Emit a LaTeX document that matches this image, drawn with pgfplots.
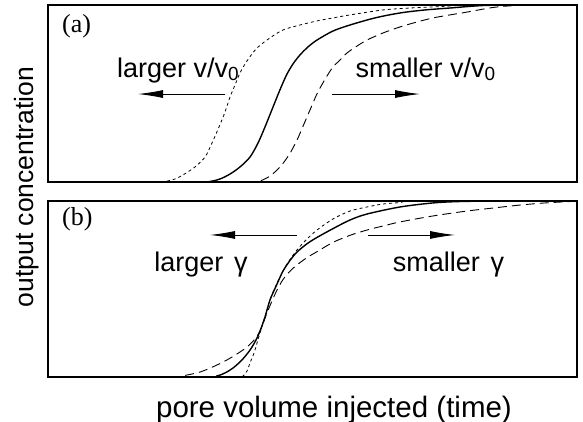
\documentclass[border=0pt]{standalone}
\usepackage{pgfplots}
\pgfplotsset{compat=1.18}
\usepackage{fontspec}
\setmainfont{Liberation Sans}
\newfontfamily\serif{Liberation Serif}
\usetikzlibrary{arrows.meta}
\newcommand{\sub}[1]{\raisebox{-0.12em}{\fontsize{19bp}{20bp}\selectfont #1}}
\begin{document}
\begin{tikzpicture}
\useasboundingbox (0,0) rectangle (583bp,422bp);
\pgfplotsset{
  panel/.style={scale only axis, width=529bp, xmin=0, xmax=529, ymin=0, ymax=1,
    xtick=\empty, ytick=\empty, axis line style={line width=1.3bp}, anchor=south west},
  solidc/.style={black, line width=1.4bp, smooth},
  longd/.style={black, line width=0.9bp, dash pattern=on 9bp off 5bp, smooth},
  shortd/.style={black, line width=0.8bp, dash pattern=on 3bp off 3bp, smooth},
}
\tikzset{
  arr/.style={-{Latex[length=25bp,width=8bp]}, line width=0.9bp},
  lab/.style={font=\fontsize{27bp}{31bp}\selectfont, anchor=base},
}
% panel (a)
\begin{axis}[panel, height=177bp, at={(48bp,240bp)}]
\addplot[solidc] coordinates {(0,0) (152,0) (162,0.003) (172,0.017) (182,0.045) (192,0.085) (202,0.141) (210,0.220) (217,0.311) (223,0.395) (229,0.480) (234,0.548) (239,0.610) (245,0.667) (252,0.718) (260,0.763) (269,0.802) (285,0.853) (302,0.887) (327,0.927) (352,0.955) (377,0.972) (402,0.983) (435,0.997) (472,1) (529,1)};
\addplot[shortd] coordinates {(0,0) (107,0) (117,0.003) (127,0.017) (135,0.040) (147,0.085) (157,0.141) (164,0.220) (171,0.311) (177,0.395) (182,0.480) (187,0.548) (192,0.616) (199,0.684) (209,0.757) (222,0.814) (235,0.859) (252,0.887) (269,0.910) (285,0.927) (302,0.944) (335,0.972) (362,0.983) (385,0.989) (412,0.997) (442,1) (529,1)};
\addplot[longd] coordinates {(0,0) (202,0) (212,0.006) (222,0.034) (232,0.085) (241,0.153) (249,0.237) (256,0.328) (262,0.407) (268,0.486) (272,0.531) (279,0.599) (285,0.650) (292,0.689) (299,0.729) (309,0.768) (319,0.802) (335,0.842) (352,0.876) (369,0.904) (385,0.927) (402,0.944) (419,0.960) (445,0.986) (467,0.997) (492,1) (529,1)};
\draw[arr] (axis cs:177,0.497) -- (axis cs:90,0.497);
\draw[arr] (axis cs:284,0.497) -- (axis cs:372,0.497);
\node[lab] at (axis cs:130,0.593) {larger v/v\sub{0}};
\node[lab] at (axis cs:377.5,0.593) {smaller v/v\sub{0}};
\node[anchor=base west, inner sep=0pt, font=\serif\fontsize{26bp}{30bp}\selectfont] at (axis cs:14,0.842) {(a)};
\end{axis}
% panel (b)
\begin{axis}[panel, height=176bp, at={(48bp,45bp)}]
\addplot[solidc] coordinates {(0,0) (157,0) (169,0.006) (177,0.023) (185,0.051) (194,0.097) (202,0.153) (208,0.210) (212,0.261) (217,0.341) (222,0.438) (229,0.528) (235,0.602) (242,0.662) (249,0.710) (259,0.757) (269,0.793) (285,0.843) (302,0.892) (319,0.926) (352,0.966) (385,0.989) (412,0.997) (452,1) (529,1)};
\addplot[shortd] coordinates {(0,0) (190,0) (195,0.006) (199,0.034) (202,0.080) (206,0.136) (209,0.193) (212,0.250) (215,0.307) (219,0.381) (222,0.438) (226,0.494) (230,0.545) (239,0.642) (249,0.722) (259,0.784) (269,0.835) (285,0.898) (302,0.943) (319,0.966) (335,0.983) (352,0.991) (372,1) (529,1)};
\addplot[longd] coordinates {(0,0) (127,0) (137,0.009) (152,0.028) (167,0.063) (179,0.097) (189,0.131) (199,0.170) (207,0.216) (212,0.261) (216,0.318) (219,0.364) (224,0.432) (229,0.494) (234,0.545) (239,0.583) (245,0.618) (252,0.650) (260,0.682) (269,0.712) (285,0.765) (302,0.805) (319,0.835) (335,0.858) (352,0.881) (385,0.915) (419,0.943) (445,0.960) (472,0.977) (497,0.989) (522,0.997) (529,1)};
\draw[arr] (axis cs:249,0.807) -- (axis cs:162,0.807);
\draw[arr] (axis cs:320,0.807) -- (axis cs:407,0.807);
\node[lab] at (axis cs:153,0.597) {larger\hspace{0.4em}γ};
\node[lab] at (axis cs:400.5,0.597) {smaller\hspace{0.4em}γ};
\node[anchor=base west, inner sep=0pt, font=\serif\fontsize{26bp}{30bp}\selectfont] at (axis cs:14,0.858) {(b)};
\end{axis}
\node[anchor=base, inner sep=0pt, font=\fontsize{29.5bp}{34bp}\selectfont] at (334bp,5bp) {pore volume injected (time)};
\node[anchor=base, rotate=90, inner sep=0pt, font=\fontsize{26.5bp}{30bp}\selectfont] at (33bp,235bp) {output concentration};
\end{tikzpicture}
\end{document}
